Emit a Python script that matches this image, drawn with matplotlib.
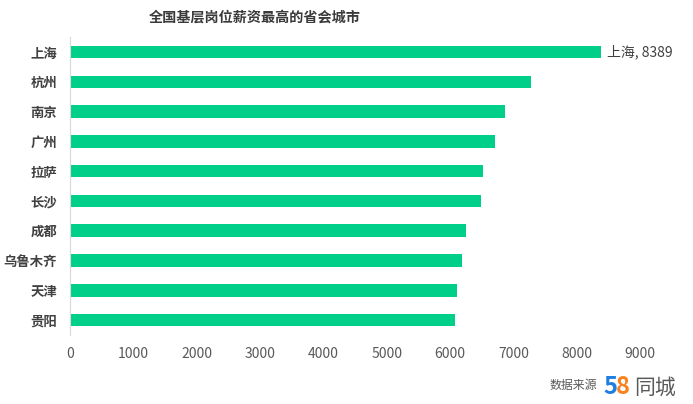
import matplotlib
matplotlib.use("Agg")
import matplotlib.pyplot as plt

plt.rcParams['font.family'] = ['Noto Sans CJK SC', 'DejaVu Sans']

title = "全国基层岗位薪资最高的省会城市"
cities = ["上海", "杭州", "南京", "广州", "拉萨", "长沙", "成都", "乌鲁木齐", "天津", "贵阳"]
salaries = [8389, 7280, 6866, 6708, 6518, 6496, 6259, 6186, 6112, 6085]
xticks = [0, 1000, 2000, 3000, 4000, 5000, 6000, 7000, 8000, 9000]
source_text = "数据来源"

W, H = 693, 404
fig = plt.figure(figsize=(6.93, 4.04), dpi=100)
ax = fig.add_axes([0.1017, 0.171, 0.8216, 0.737])

y = list(range(len(cities)))
ax.barh(y, salaries, height=0.42, color='#00CF8A', zorder=2)
ax.set_ylim(len(cities) - 0.5, -0.5)
ax.set_xlim(0, 9000)
ax.set_xticks(xticks)
ax.set_xticklabels([str(t) for t in xticks], fontsize=10, color='#595959')
ax.set_yticks(y)
ax.set_yticklabels(cities, fontsize=9.6, fontweight='bold', color='#404040')
ax.tick_params(axis='both', length=0)
ax.tick_params(axis='y', pad=9.5)
ax.tick_params(axis='x', pad=9)
for s in ['top', 'right', 'bottom']:
    ax.spines[s].set_visible(False)
ax.spines['left'].set_color('#D9D9D9')
ax.spines['left'].set_linewidth(0.8)

ax.annotate(f"{cities[0]}, {salaries[0]}", xy=(salaries[0], 0), xytext=(4, 0),
            textcoords='offset points', va='center', ha='left',
            fontsize=10, color='#404040')

fig.text(255 / W, 1 - 18 / H, title, ha='center', va='center',
         fontsize=10.2, fontweight='bold', color='#3A3A3A')

fig.text(597 / W, 1 - 386 / H, source_text, ha='right', va='center',
         fontsize=8.6, color='#595959')
fig.text(603 / W, 1 - 394.5 / H, "5", ha='left', va='baseline',
         fontsize=17, fontweight='bold', color='#1E7FE0')
fig.text(615.5 / W, 1 - 394.5 / H, "8", ha='left', va='baseline',
         fontsize=17, fontweight='bold', color='#F7821E')
fig.text(634 / W, 1 - 393.5 / H, "同城", ha='left', va='baseline',
         fontsize=15, color='#595959')

fig.savefig("out.png", dpi=100)
